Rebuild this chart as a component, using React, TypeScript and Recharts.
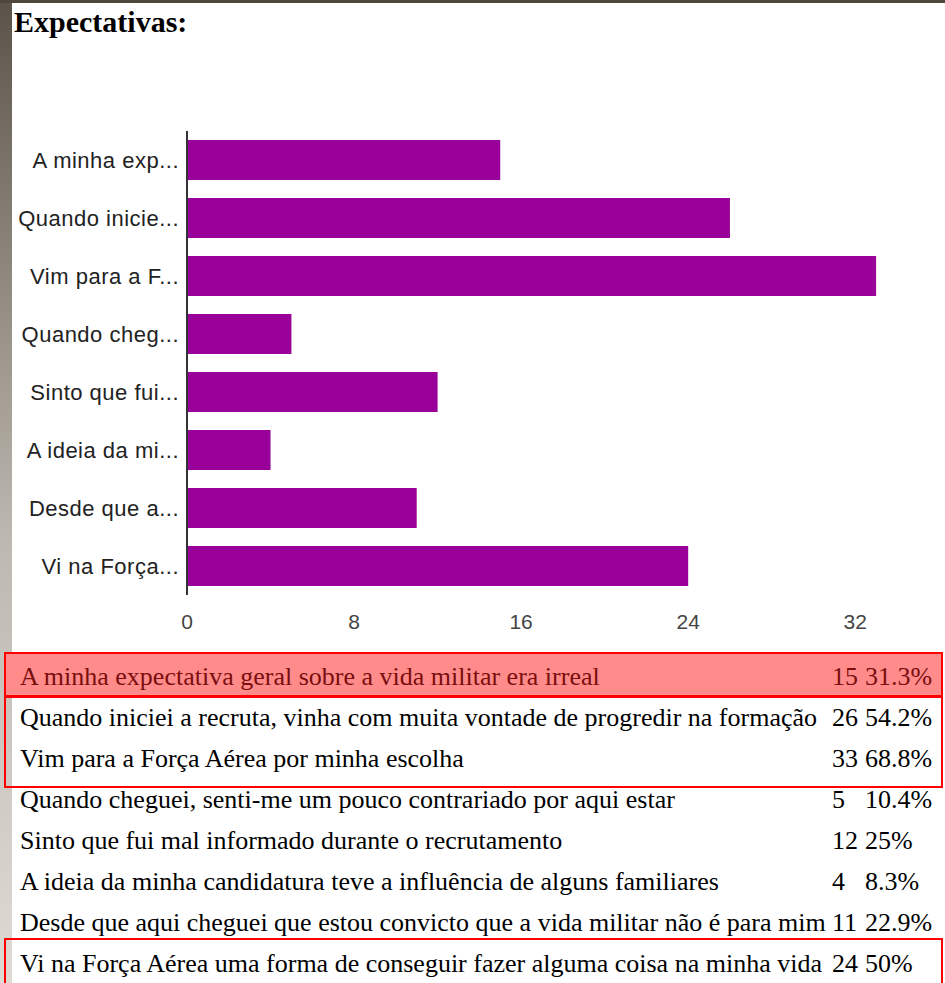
import React from "react";
import { BarChart, Bar, XAxis, YAxis } from "recharts";

const categories = [
  "A minha expectativa geral sobre a vida militar era irreal",
  "Quando iniciei a recruta, vinha com muita vontade de progredir na formação",
  "Vim para a Força Aérea por minha escolha",
  "Quando cheguei, senti-me um pouco contrariado por aqui estar",
  "Sinto que fui mal informado durante o recrutamento",
  "A ideia da minha candidatura teve a influência de alguns familiares",
  "Desde que aqui cheguei que estou convicto que a vida militar não é para mim",
  "Vi na Força Aérea uma forma de conseguir fazer alguma coisa na minha vida",
];
const shortLabels = [
  "A minha exp...",
  "Quando inicie...",
  "Vim para a F...",
  "Quando cheg...",
  "Sinto que fui...",
  "A ideia da mi...",
  "Desde que a...",
  "Vi na Força...",
];
const counts = [15, 26, 33, 5, 12, 4, 11, 24];
const percents = ["31.3%", "54.2%", "68.8%", "10.4%", "25%", "8.3%", "22.9%", "50%"];
const xTicks = [0, 8, 16, 24, 32];
const title = "Expectativas:";

const data = categories.map((c, i) => ({ name: c, value: counts[i] }));
const shortOf: Record<string, string> = {};
categories.forEach((c, i) => (shortOf[c] = shortLabels[i]));

const SERIF = '"Liberation Serif", "Times New Roman", serif';
const SANS = '"Liberation Sans", Arial, sans-serif';
const ROW_TOP = 656;
const ROW_H = 41;

export default function App() {
  return (
    <div
      style={{
        position: "absolute",
        left: 0,
        top: 0,
        width: 945,
        height: 983,
        background: "#fff",
        overflow: "hidden",
      }}
    >
      {/* screenshot frame edges */}
      <div
        style={{
          position: "absolute",
          left: 0,
          top: 0,
          width: 12,
          height: 983,
          background:
            "linear-gradient(to bottom, #5b5349 0%, #8a8379 25%, #bdb8b0 55%, #dedad4 100%)",
        }}
      />
      <div
        style={{
          position: "absolute",
          left: 0,
          top: 0,
          width: 945,
          height: 3,
          background: "#4f463d",
        }}
      />
      <div
        style={{
          position: "absolute",
          left: 14,
          top: 7,
          fontFamily: SERIF,
          fontWeight: "bold",
          fontSize: 30,
          lineHeight: "30px",
          color: "#000",
        }}
      >
        {title}
      </div>

      <div style={{ position: "absolute", left: 0, top: 0 }}>
        <BarChart
          width={945}
          height={660}
          data={data}
          layout="vertical"
          margin={{ top: 131, right: 48, bottom: 0, left: 0 }}
          barSize={40}
        >
          <XAxis
            type="number"
            domain={[0, 34]}
            ticks={xTicks}
            axisLine={false}
            tickLine={false}
            height={65}
            tickMargin={13}
            tick={{ fill: "#444", fontSize: 21, fontFamily: SANS }}
          />
          <YAxis
            type="category"
            dataKey="name"
            width={187}
            tickLine={false}
            axisLine={{ stroke: "#333", strokeWidth: 2 }}
            tickFormatter={(v: string) => shortOf[v] ?? v}
            tick={{ fill: "#222", fontSize: 22, fontFamily: SANS, letterSpacing: 0.5 }}
            interval={0}
          />
          <Bar dataKey="value" fill="#990099" isAnimationActive={false} />
        </BarChart>
      </div>

      {/* highlight boxes */}
      <div
        style={{
          position: "absolute",
          left: 4,
          top: 652,
          width: 939,
          height: 45,
          boxSizing: "border-box",
          background: "#ff8b8b",
          border: "2px solid #ff0000",
        }}
      />
      <div
        style={{
          position: "absolute",
          left: 4,
          top: 696,
          width: 939,
          height: 92,
          boxSizing: "border-box",
          border: "2px solid #ff0000",
        }}
      />
      <div
        style={{
          position: "absolute",
          left: 4,
          top: 938,
          width: 939,
          height: 60,
          boxSizing: "border-box",
          border: "2px solid #ff0000",
        }}
      />

      {categories.map((c, i) => {
        const color = i === 0 ? "#7a0e0e" : "#000";
        const top = ROW_TOP + i * ROW_H;
        const common: React.CSSProperties = {
          position: "absolute",
          top,
          height: ROW_H,
          lineHeight: ROW_H + "px",
          fontFamily: SERIF,
          fontSize: 26,
          color,
          whiteSpace: "nowrap",
        };
        return (
          <React.Fragment key={c}>
            <div style={{ ...common, left: 20 }}>{c}</div>
            <div style={{ ...common, left: 832 }}>{counts[i]}</div>
            <div style={{ ...common, left: 865 }}>{percents[i]}</div>
          </React.Fragment>
        );
      })}
    </div>
  );
}
